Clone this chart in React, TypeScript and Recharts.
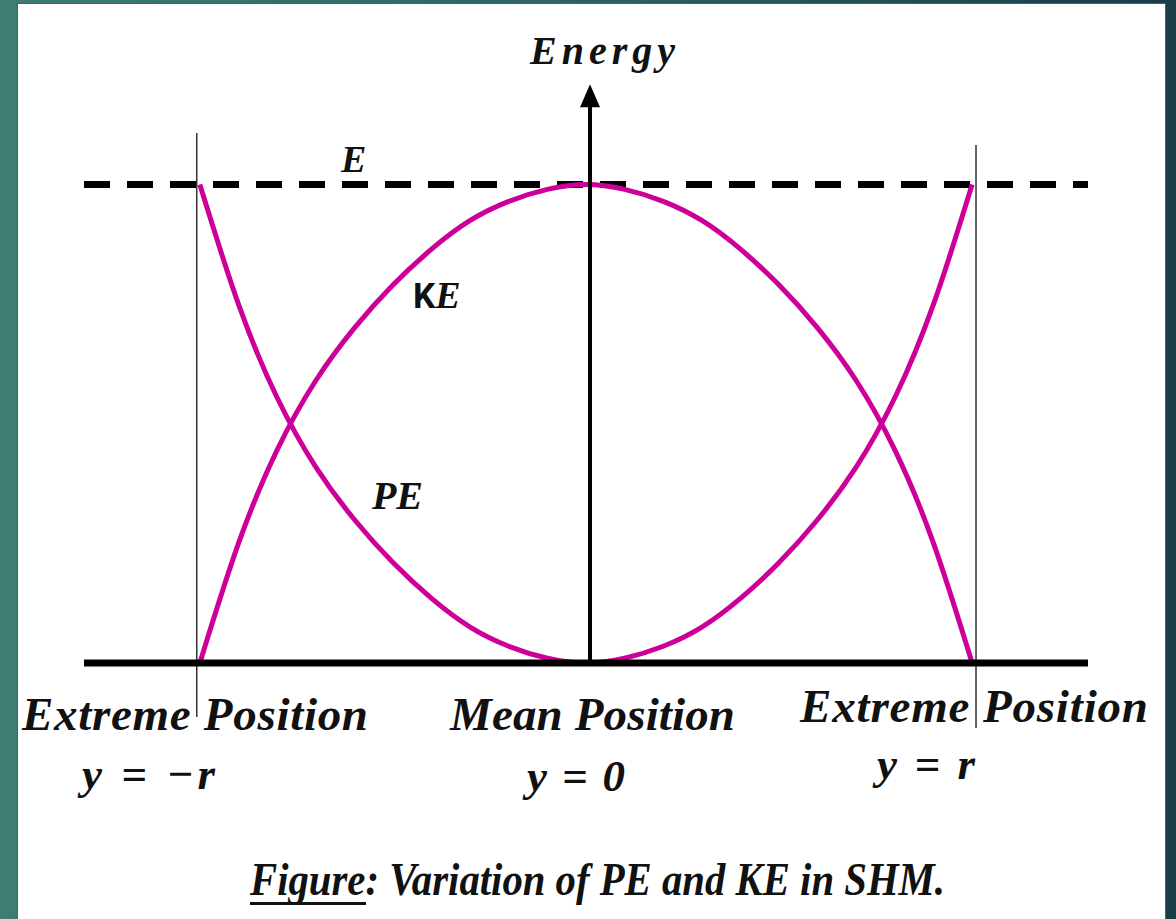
import React from "react";
import { LineChart, Line, XAxis, YAxis, ReferenceLine } from "recharts";

// displacement y in units of r
const positions = [
  -1, -0.9, -0.8, -0.7, -0.6, -0.5, -0.4, -0.3, -0.2, -0.1, 0, 0.1, 0.2, 0.3,
  0.4, 0.5, 0.6, 0.7, 0.8, 0.9, 1,
];
// kinetic energy, in units of E
const keValues = [
  0, 0.25, 0.445, 0.59, 0.7, 0.79, 0.865, 0.925, 0.965, 0.99, 1, 0.99, 0.965,
  0.925, 0.865, 0.79, 0.7, 0.59, 0.445, 0.25, 0,
];
// potential energy, in units of E
const peValues = [
  1, 0.75, 0.555, 0.41, 0.3, 0.21, 0.135, 0.075, 0.035, 0.01, 0, 0.01, 0.035,
  0.075, 0.135, 0.21, 0.3, 0.41, 0.555, 0.75, 1,
];

const chartData = positions.map((x, i) => ({
  x,
  ke: keValues[i],
  pe: peValues[i],
}));

const MAGENTA = "#cc0099";
const SERIF =
  '"Times New Roman", Tinos, "Liberation Serif", "DejaVu Serif", "Noto Serif", Georgia, serif';

const ArrowAxis = (props: any) => {
  const { x1, y1, x2, y2 } = props;
  const base = y2 + 22;
  return (
    <g>
      <line x1={x1} y1={y1} x2={x2} y2={base} stroke="#000" strokeWidth={4} />
      <polygon
        points={`${x2},${y2} ${x2 - 10},${base + 1} ${x2 + 10},${base + 1}`}
        fill="#000"
      />
    </g>
  );
};

const txt: React.CSSProperties = {
  fontFamily: SERIF,
  fontWeight: 700,
  fontStyle: "italic",
};

export default function App() {
  return (
    <div
      style={{
        position: "absolute",
        left: 0,
        top: 0,
        width: 1176,
        height: 919,
        overflow: "hidden",
        fontFamily: SERIF,
        background:
          "linear-gradient(90deg, #3e7d72 0%, #2c6262 50%, #173d49 100%)",
      }}
    >
      <div
        style={{
          position: "absolute",
          left: 17,
          top: 3,
          width: 1149,
          height: 940,
          background: "#fff",
          border: "1.5px solid #c62a2a",
          boxSizing: "border-box",
        }}
      />
      <div style={{ position: "absolute", left: 0, top: 0 }}>
        <LineChart
          width={1176}
          height={919}
          data={chartData}
          margin={{ top: 65, right: 88, left: 84, bottom: 256 }}
        >
          <XAxis type="number" dataKey="x" domain={[-1.3, 1.3]} hide />
          <YAxis type="number" domain={[0, 1.25]} hide />
          <ReferenceLine
            ifOverflow="visible"
            segment={[
              { x: -1.008, y: -0.113 },
              { x: -1.008, y: 1.108 },
            ]}
            stroke="#333"
            strokeWidth={1.5}
          />
          <ReferenceLine
            ifOverflow="visible"
            segment={[
              { x: 1.01, y: -0.136 },
              { x: 1.01, y: 1.083 },
            ]}
            stroke="#333"
            strokeWidth={1.5}
          />
          <ReferenceLine
            y={1}
            stroke="#000"
            strokeWidth={7}
            strokeDasharray="26 17"
          />
          <Line
            type="natural"
            dataKey="ke"
            stroke={MAGENTA}
            strokeWidth={5}
            dot={false}
            isAnimationActive={false}
          />
          <Line
            type="natural"
            dataKey="pe"
            stroke={MAGENTA}
            strokeWidth={5}
            dot={false}
            isAnimationActive={false}
          />
          <ReferenceLine y={0} stroke="#000" strokeWidth={7} />
          <ReferenceLine
            ifOverflow="visible"
            segment={[
              { x: 0.0104, y: 0 },
              { x: 0.0104, y: 1.21 },
            ]}
            shape={ArrowAxis}
          />
        </LineChart>
      </div>
      <svg
        width={1176}
        height={919}
        style={{ position: "absolute", left: 0, top: 0, pointerEvents: "none" }}
        fill="#111"
      >
        <text style={txt} x={530} y={64} fontSize={40} textLength={145} lengthAdjust="spacing">
          Energy
        </text>
        <text style={txt} x={341} y={172} fontSize={38}>
          E
        </text>
        <text style={txt} x={413} y={308} fontSize={38}>
          <tspan
            style={{ fontFamily: "Roboto, 'Liberation Sans', Arial, sans-serif", fontStyle: "normal" }}
            fontSize={35}
          >
            K
          </tspan>
          <tspan>E</tspan>
        </text>
        <text style={txt} x={372} y={509} fontSize={40} textLength={51} lengthAdjust="spacing">
          PE
        </text>
        <text style={txt} x={22} y={730} fontSize={47} textLength={346} lengthAdjust="spacing">
          Extreme Position
        </text>
        <text style={txt} x={450} y={730} fontSize={47} textLength={285} lengthAdjust="spacing">
          Mean Position
        </text>
        <text style={txt} x={800} y={722} fontSize={47} textLength={348} lengthAdjust="spacing">
          Extreme Position
        </text>
        <text style={txt} x={82} y={789} fontSize={45} textLength={133} lengthAdjust="spacing">
          y = −r
        </text>
        <text style={txt} x={527} y={791} fontSize={45} textLength={98} lengthAdjust="spacing">
          y = 0
        </text>
        <text style={txt} x={877} y={779} fontSize={45} textLength={98} lengthAdjust="spacing">
          y = r
        </text>
        <text
          style={txt}
          x={250}
          y={895}
          fontSize={46}
          textLength={695}
          lengthAdjust="spacingAndGlyphs"
        >
          Figure: Variation of PE and KE in SHM.
        </text>
        <rect x={250} y={902} width={116} height={3} fill="#111" />
      </svg>
    </div>
  );
}
